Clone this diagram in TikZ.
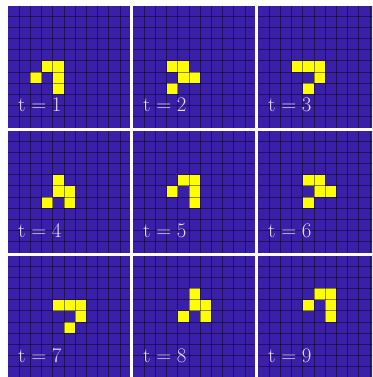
\documentclass[tikz,border=0pt]{standalone}
\usetikzlibrary{positioning}
\definecolor{lifeblue}{RGB}{58,32,168}
\definecolor{lifeyellow}{RGB}{255,255,0}
\newcommand\cellsz{11.2}

\begin{document}
\begin{tikzpicture}[
  x=1pt, y=-1pt,
  panel/.style={rectangle, anchor=north west, fill=lifeblue, draw=none,
                minimum size=121.5pt, inner sep=0pt, outer sep=0pt},
  live/.style={fill=lifeyellow},
  gridline/.style={draw=black, opacity=.45, line width=.7pt},
  tlabel/.style={anchor=base west, inner sep=0pt, text=white, text opacity=.85,
                 font=\huge}
]
\clip (0,0) rectangle (372,377);
\fill[white] (0,0) rectangle (372,377);
% --- Panels ---
\node[panel] (p1) at (8,6)     {};
\node[panel] (p2) at (133,6)   {};
\node[panel] (p3) at (258,6)   {};
\node[panel] (p4) at (8,131)   {};
\node[panel] (p5) at (133,131) {};
\node[panel] (p6) at (258,131) {};
\node[panel] (p7) at (8,256)   {};
\node[panel] (p8) at (133,256) {};
\node[panel] (p9) at (258,256) {};
% --- Live cells, grid and time step ---
\foreach \k/\cells in {1/{3/5,4/5,2/6,4/6,4/7}, 2/{3/5,4/5,4/6,5/6,3/7},
                       3/{3/5,4/5,5/5,5/6,4/7}, 4/{4/4,4/5,5/5,3/6,5/6},
                       5/{4/4,5/4,3/5,5/5,5/6}, 6/{4/4,5/4,5/5,6/5,4/6},
                       7/{4/4,5/4,6/4,6/5,5/6}, 8/{5/3,5/4,6/4,4/5,6/5},
                       9/{5/3,6/3,4/4,6/4,6/5}} {
  \begin{scope}[shift={(p\k.north west)}]
    \clip (0,0) rectangle (121.5,121.5);
    \foreach \cx/\cy in \cells
      \fill[live] (\cx*\cellsz,\cy*\cellsz-1.2) rectangle ++(\cellsz,\cellsz);
    \foreach \i in {1,...,10} {
      \draw[gridline] (\i*\cellsz,0) -- (\i*\cellsz,121.5);
      \draw[gridline] (0,\i*\cellsz-1.2) -- (121.5,\i*\cellsz-1.2);
    }
    \node[tlabel] (t\k) at (10,106) {$\mathrm{t} = \k$};
  \end{scope}
}
\end{tikzpicture}
\end{document}
